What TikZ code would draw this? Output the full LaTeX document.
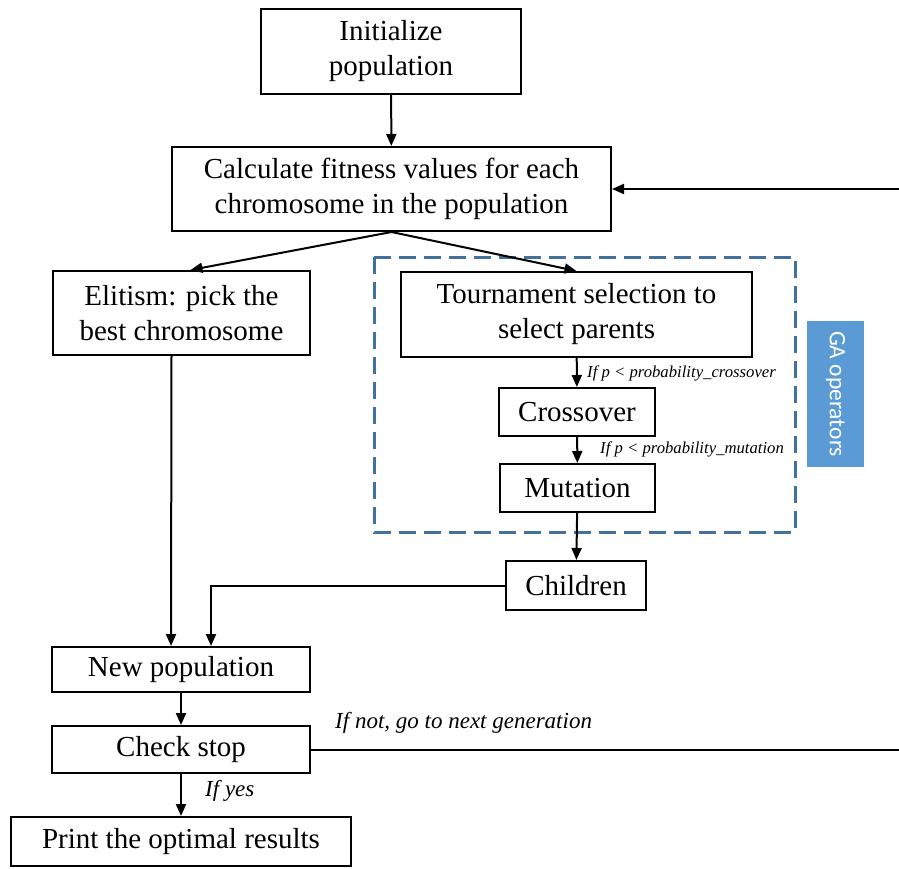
\documentclass[tikz,border=0pt]{standalone}
\usepackage{fontspec}
\setmainfont{Liberation Serif}
\newfontfamily\gafont{Carlito}
\usetikzlibrary{arrows.meta,calc}
\definecolor{gablue}{HTML}{5B9BD5}
\definecolor{gadash}{HTML}{41719C}
\tikzset{
  box/.style={draw, line width=2pt, align=center, inner sep=0pt,
              font=\fontsize{29}{35}\selectfont},
  conn/.style={line width=2pt},
  arr/.style={conn, -{Triangle[length=12pt,width=10pt]}},
  cond/.style={font=\fontsize{16.7}{19}\selectfont\itshape, anchor=west, inner sep=0pt},
  condbig/.style={font=\fontsize{23}{26}\selectfont\itshape, anchor=west, inner sep=0pt},
}
\begin{document}
\begin{tikzpicture}[x=1pt,y=-1pt]
\useasboundingbox (0,0) rectangle (899,869);

% main flow boxes
\node[box, minimum width=260, minimum height=85] (init) at (391,51.5) {Initialize\\population};
\node[box, minimum width=439, minimum height=84] (calc) at (391.5,189) {Calculate fitness values for each\\chromosome in the population};
\node[box, minimum width=257, minimum height=84] (elit) at (181.5,313) {Elitism: pick the\\best chromosome};
\node[box, minimum width=351, minimum height=85] (tour) at (576.5,314.5) {Tournament selection to\\select parents};
\node[box, minimum width=156, minimum height=48] (cross) at (577,412) {Crossover};
\node[box, minimum width=155, minimum height=48] (mut) at (577.5,488) {Mutation};
\node[box, minimum width=140, minimum height=49] (child) at (576,585.5) {Children};
\node[box, minimum width=258, minimum height=45] (newpop) at (181,669.5) {New population};
\node[box, minimum width=258, minimum height=47] (check) at (181,749.5) {Check stop};
\node[box, minimum width=340, minimum height=49] (print) at (181,841.5) {Print the optimal results};

% group of GA operators
\draw[gadash, line width=3pt, dash pattern=on 17pt off 8pt] (374,257) rectangle (795,532);
\node[fill=gablue, text=white, rotate=-90, minimum width=146, minimum height=57,
      inner sep=0pt, font=\gafont\fontsize{23.5}{26}\selectfont] (ga) at (835.5,394) {GA operators};

% connectors
\draw[arr] (init) -- (calc);
\draw[arr] (calc.south) -- ([xshift=9pt]elit.north);
\draw[arr] (calc.south) -- (tour.north);
\draw[arr] (tour) -- (cross);
\draw[arr] (cross) -- (mut);
\draw[arr] (mut) -- (child);
\draw[arr] ([xshift=-10pt]elit.south) -- ([xshift=-10pt]newpop.north);
\draw[arr] (child.west) -| ([xshift=30pt]newpop.north);
\draw[arr] (newpop) -- (check);
\draw[arr] (check) -- (print);

% loop back to the next generation
\coordinate (loopA) at (899,750);
\coordinate (loopB) at (899,189);
\draw[conn] (check.east) -- (check.east -| loopA);
\draw[arr] (loopB) -- (calc.east);

% condition labels
\node[cond] (lcross) at (587,373) {If p < probability\_crossover};
\node[cond] (lmut) at (600,449) {If p < probability\_mutation};
\node[condbig] (lyes) at (205,791) {If yes};
\node[condbig] (lnot) at (335,723) {If not, go to next generation};
\end{tikzpicture}
\end{document}
